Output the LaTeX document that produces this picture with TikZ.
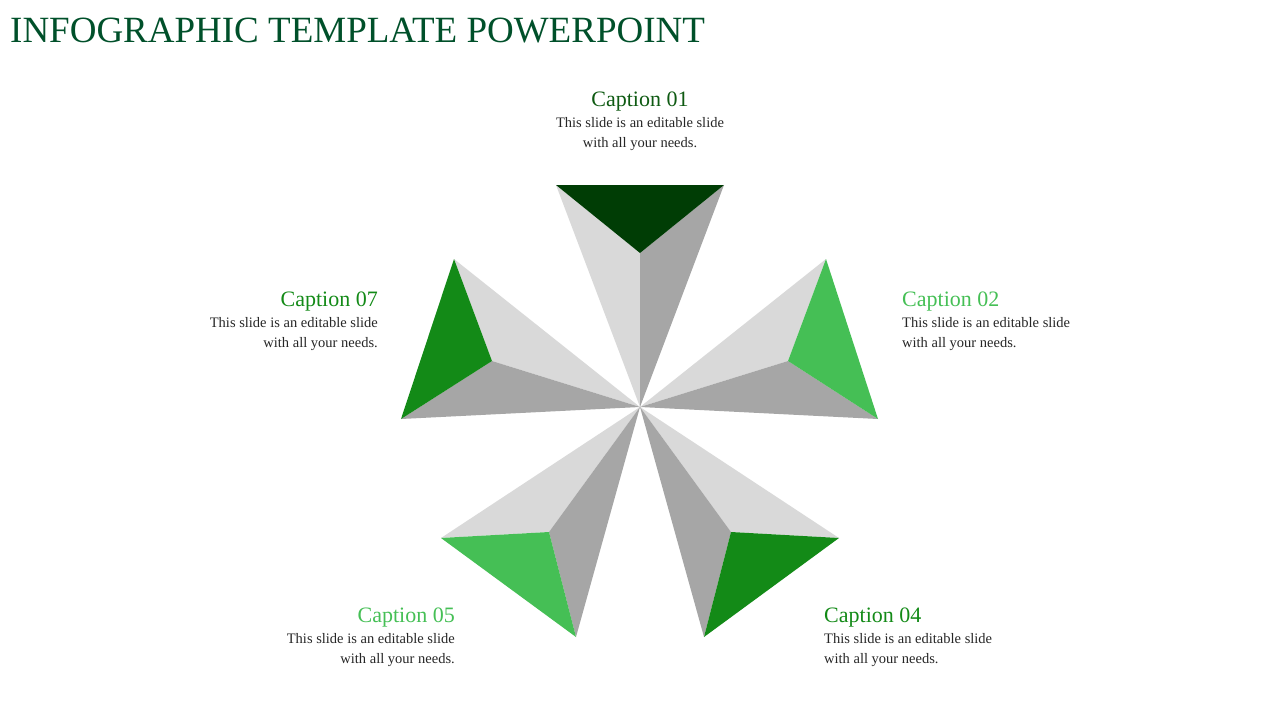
\documentclass[tikz,border=0pt]{standalone}
\usepackage{fontspec}
\setmainfont{Liberation Serif}
\definecolor{lg}{HTML}{D9D9D9}
\definecolor{dg}{HTML}{A6A6A6}
\definecolor{gtop}{HTML}{003D05}
\definecolor{gmid}{HTML}{138A17}
\definecolor{glt}{HTML}{45BF55}
\definecolor{ttl}{HTML}{00502A}
\definecolor{capone}{HTML}{0E5A12}
\tikzset{
 captxt/.style={font=\fontsize{22}{24}\selectfont, inner sep=0pt},
 body/.style={font=\fontsize{14.5}{20.5}\selectfont, inner sep=0pt, text=black!85},
}
\newcommand{\pyr}[4]{% outer1 inner outer2 colour
 \fill[lg] (#1) -- (#2) -- (c) -- cycle;
 \fill[dg] (#3) -- (#2) -- (c) -- cycle;
 \fill[#4] (#1) -- (#2) -- (#3) -- cycle;}
\begin{document}
\begin{tikzpicture}[x=1pt,y=-1pt]
\useasboundingbox (0,0) rectangle (1280,720);
\coordinate (c) at (640,407);
\pyr{556,185}{640,253}{724,185}{gtop}
\pyr{826,259}{788,361}{878,419}{glt}
\pyr{839,538}{731,532}{704,637}{gmid}
\pyr{441,538}{549,532}{576,637}{glt}
\pyr{454,259}{492,361}{401,419}{gmid}
\node[anchor=west,inner sep=0pt,text=ttl,font=\fontsize{37}{40}\selectfont] (t) at (10,31) {INFOGRAPHIC TEMPLATE POWERPOINT};
\node[captxt,text=capone] (c1) at (640,102) {Caption 01};
\node[body,align=center,anchor=north] (b1) at (640,117) {This slide is an editable slide\\with all your needs.};
\node[captxt,text=glt,anchor=west] (c2) at (902,302) {Caption 02};
\node[body,align=left,anchor=north west] (b2) at (902,317) {This slide is an editable slide\\with all your needs.};
\node[captxt,text=gmid,anchor=west] (c4) at (824,618) {Caption 04};
\node[body,align=left,anchor=north west] (b4) at (824,633) {This slide is an editable slide\\with all your needs.};
\node[captxt,text=glt,anchor=east] (c5) at (455,618) {Caption 05};
\node[body,align=right,anchor=north east] (b5) at (455,633) {This slide is an editable slide\\with all your needs.};
\node[captxt,text=gmid,anchor=east] (c7) at (378,302) {Caption 07};
\node[body,align=right,anchor=north east] (b7) at (378,317) {This slide is an editable slide\\with all your needs.};
\end{tikzpicture}
\end{document}
